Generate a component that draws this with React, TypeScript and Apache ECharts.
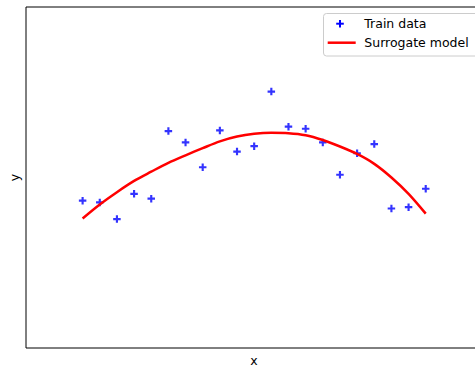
import React, { useEffect, useRef } from "react";
import * as echarts from "echarts";

const XS = [0, 1, 2, 3, 4, 5, 6, 7, 8, 9, 10, 11, 12, 13, 14, 15, 16, 17, 18, 19, 20];
const TRAIN_Y = [43.2, 42.7, 37.8, 45.2, 43.8, 63.6, 60.3, 53.0, 63.8, 57.6, 59.2, 75.2, 64.9, 64.3, 60.3, 50.8, 57.1, 59.8, 40.9, 41.3, 46.7];
const MODEL_Y = [38.0, 42.1, 45.7, 49.0, 51.7, 54.3, 56.5, 58.6, 60.6, 62.0, 62.8, 63.1, 63.0, 62.4, 61.0, 59.1, 56.9, 54.0, 50.0, 45.2, 39.4];
const LEGEND_LABELS = ["Train data", "Surrogate model"];
const AXIS_LABELS = { x: "x", y: "y" };

const FONT = "'DejaVu Sans', sans-serif";
const PLUS = "path://M-1,-3.5H1V-1H3.5V1H1V3.5H-1V1H-3.5V-1H-1Z";

export default function App() {
  const ref = useRef<HTMLDivElement>(null);
  useEffect(() => {
    document.body.style.margin = "0";
    document.body.style.overflow = "hidden";
    document.documentElement.style.overflow = "hidden";
    const chart = echarts.init(ref.current!, null, { renderer: "svg" });
    chart.setOption({
      animation: false,
      backgroundColor: "#ffffff",
      grid: {
        left: 26,
        top: 7,
        width: 456,
        height: 341,
        show: true,
        borderColor: "#000000",
        borderWidth: 1,
        backgroundColor: "transparent",
      },
      xAxis: {
        type: "value",
        min: -3.3,
        max: 23.28,
        axisLine: { show: false },
        axisTick: { show: false },
        axisLabel: { show: false },
        splitLine: { show: false },
      },
      yAxis: {
        type: "value",
        min: 0,
        max: 100,
        axisLine: { show: false },
        axisTick: { show: false },
        axisLabel: { show: false },
        splitLine: { show: false },
      },
      series: [
        {
          name: LEGEND_LABELS[0],
          type: "scatter",
          symbol: PLUS,
          symbolSize: [7.5, 7.5],
          itemStyle: { color: "#0000ff" },
          data: XS.map((x, i) => [x, TRAIN_Y[i]]),
          z: 2,
        },
        {
          name: LEGEND_LABELS[1],
          type: "line",
          showSymbol: false,
          symbol: "none",
          smooth: 0.3,
          lineStyle: { color: "#ff0000", width: 2.5 },
          data: XS.map((x, i) => [x, MODEL_Y[i]]),
          z: 3,
        },
      ],
      graphic: [
        {
          type: "text",
          x: 254,
          y: 360,
          style: { text: AXIS_LABELS.x, font: `12.5px ${FONT}`, fill: "#000", align: "center", verticalAlign: "middle" },
        },
        {
          type: "text",
          x: 14,
          y: 177.5,
          rotation: Math.PI / 2,
          style: {
            text: AXIS_LABELS.y,
            font: `12.5px ${FONT}`,
            fill: "#000",
            align: "center",
            verticalAlign: "middle",
          },
        },
        {
          type: "rect",
          shape: { x: 323.5, y: 13.5, width: 170, height: 42.5, r: 3 },
          style: { fill: "rgba(255,255,255,0.8)", stroke: "#cccccc", lineWidth: 1 },
          z: 10,
        },
        {
          type: "line",
          shape: { x1: 336.2, y1: 23.7, x2: 343.8, y2: 23.7 },
          style: { stroke: "#0000ff", lineWidth: 2 },
          z: 11,
        },
        {
          type: "line",
          shape: { x1: 340, y1: 19.9, x2: 340, y2: 27.5 },
          style: { stroke: "#0000ff", lineWidth: 2 },
          z: 11,
        },
        {
          type: "line",
          shape: { x1: 327.7, y1: 42.7, x2: 355.7, y2: 42.7 },
          style: { stroke: "#ff0000", lineWidth: 2.5 },
          z: 11,
        },
        {
          type: "text",
          x: 364.3,
          y: 23.7,
          style: { text: LEGEND_LABELS[0], font: `12.5px ${FONT}`, fill: "#000", verticalAlign: "middle" },
          z: 11,
        },
        {
          type: "text",
          x: 364.3,
          y: 42.7,
          style: { text: LEGEND_LABELS[1], font: `12.5px ${FONT}`, fill: "#000", verticalAlign: "middle" },
          z: 11,
        },
      ],
    });
    return () => chart.dispose();
  }, []);
  return <div ref={ref} style={{ width: 490, height: 367 }} />;
}
